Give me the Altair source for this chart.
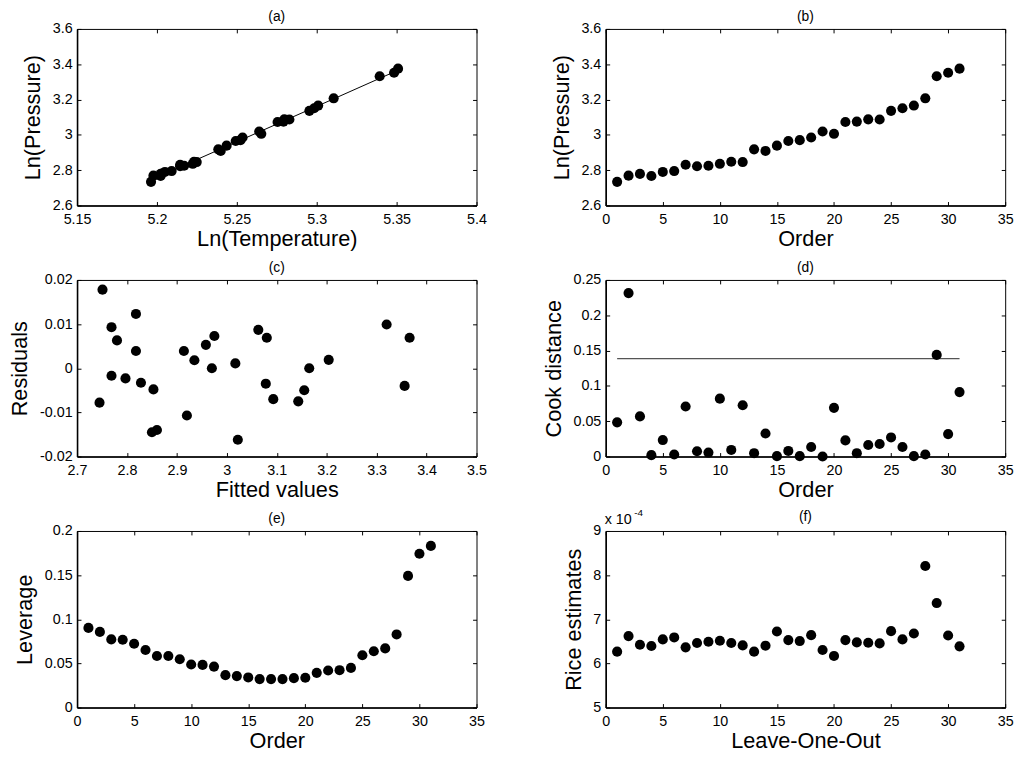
import altair as alt
import pandas as pd

# ---------------- data ----------------
order = list(range(1, 32))
ln_temp = [5.1963, 5.1978, 5.2023, 5.2023, 5.2050, 5.2092, 5.2145, 5.2145, 5.2170, 5.2224,
           5.2232, 5.2249, 5.2384, 5.2399, 5.2436, 5.2493, 5.2523, 5.2536, 5.2640, 5.2653,
           5.2755, 5.2792, 5.2797, 5.2829, 5.2954, 5.2984, 5.3009, 5.3106, 5.3394, 5.3484, 5.3509]
ln_press = [2.734, 2.769, 2.779, 2.767, 2.790, 2.795, 2.831, 2.822, 2.825, 2.836,
            2.848, 2.846, 2.918, 2.909, 2.939, 2.965, 2.970, 2.985, 3.019, 3.006,
            3.073, 3.075, 3.088, 3.087, 3.136, 3.151, 3.166, 3.207, 3.332, 3.352, 3.375]
fitted = [2.745, 2.751, 2.769, 2.769, 2.780, 2.797, 2.818, 2.818, 2.828, 2.850,
          2.853, 2.860, 2.914, 2.920, 2.935, 2.958, 2.970, 2.975, 3.017, 3.022,
          3.063, 3.078, 3.080, 3.093, 3.143, 3.155, 3.165, 3.204, 3.320, 3.356, 3.366]
residuals = [-0.0078, 0.0178, 0.0093, -0.0017, 0.0063, -0.0023, 0.0123, 0.0039, -0.0033, -0.0145,
             -0.0048, -0.0140, 0.0039, -0.0107, 0.0018, 0.0053, 0.0000, 0.0073, 0.0011, -0.0162,
             0.0087, -0.0035, 0.0069, -0.0070, -0.0075, -0.0050, 0.0000, 0.0019, 0.0099, -0.0040, 0.0069]
cook = [0.0484, 0.2314, 0.0568, 0.0019, 0.0233, 0.0028, 0.0708, 0.0074, 0.0056, 0.0819,
        0.0093, 0.0726, 0.0047, 0.0326, 0.0005, 0.0079, 0.0005, 0.0135, 0.0000, 0.0689,
        0.0228, 0.0047, 0.0163, 0.0177, 0.0270, 0.0135, 0.0005, 0.0028, 0.1439, 0.0317, 0.0912]
cook_cutoff = 0.1387
cook_cutoff_span = [1, 31]
leverage = [0.0902, 0.0857, 0.0772, 0.0768, 0.0723, 0.0652, 0.0584, 0.0584, 0.0547, 0.0487,
            0.0483, 0.0464, 0.0367, 0.0356, 0.0341, 0.0322, 0.0322, 0.0322, 0.0333, 0.0337,
            0.0393, 0.0419, 0.0423, 0.0449, 0.0592, 0.0637, 0.0670, 0.0828, 0.1491, 0.1742, 0.1831]
# Rice estimates in units of 1e-4
rice = [6.266, 6.618, 6.423, 6.393, 6.543, 6.588, 6.363, 6.461, 6.491, 6.513,
        6.461, 6.408, 6.266, 6.401, 6.723, 6.528, 6.506, 6.640, 6.303, 6.169,
        6.528, 6.476, 6.468, 6.453, 6.730, 6.543, 6.678, 8.206, 7.367, 6.633, 6.386]

ticks_lnT = [5.15, 5.2, 5.25, 5.3, 5.35, 5.4]
ticks_lnP = [2.6, 2.8, 3.0, 3.2, 3.4, 3.6]
ticks_order = [0, 5, 10, 15, 20, 25, 30, 35]
ticks_fit = [2.7, 2.8, 2.9, 3.0, 3.1, 3.2, 3.3, 3.4, 3.5]
ticks_res = [-0.02, -0.01, 0.0, 0.01, 0.02]
ticks_cook = [0, 0.05, 0.1, 0.15, 0.2, 0.25]
ticks_lev = [0, 0.05, 0.1, 0.15, 0.2]
ticks_rice = [5, 6, 7, 8, 9]

df = pd.DataFrame({
    "order": order, "lnT": ln_temp, "lnP": ln_press, "fit": fitted,
    "res": residuals, "cook": cook, "lev": leverage, "rice": rice,
})
cut_df = pd.DataFrame({"order": cook_cutoff_span, "cook": [cook_cutoff] * 2})

W, H = 405, 179
FONT = "Liberation Sans"
TICK = 4
LABEL_FS = 14.5


def lab_expr(fmt):
    return f"datum.value < 0 ? '-' + format(-datum.value, '{fmt}') : format(datum.value, '{fmt}')"


def panel(xf, yf, xdom, xvals, xfmt, ydom, yvals, yfmt, xtitle, ytitle, title,
          extra=None, title_offset=-3):
    xs = alt.Scale(domain=xdom, nice=False, zero=False)
    ys = alt.Scale(domain=ydom, nice=False, zero=False)
    base = alt.Chart(df)
    main_x = alt.Axis(values=xvals, labelExpr=lab_expr(xfmt), orient="bottom", offset=-TICK,
                      tickSize=TICK, domain=False, labelPadding=7, labelFlush=False,
                      labelOverlap=False, title=xtitle, titlePadding=3)
    main_y = alt.Axis(values=yvals, labelExpr=lab_expr(yfmt), orient="left", offset=-TICK,
                      tickSize=TICK, domain=False, labelPadding=5, labelOverlap=False,
                      title=ytitle, titlePadding=8)
    pts = base.mark_circle(size=105, color="black", opacity=1).encode(
        x=alt.X(f"{xf}:Q", scale=xs, axis=main_x),
        y=alt.Y(f"{yf}:Q", scale=ys, axis=main_y),
    )
    top_x = alt.Axis(values=xvals, orient="top", offset=-TICK, tickSize=TICK, domain=False,
                     labels=False, title=None)
    right_y = alt.Axis(values=yvals, orient="right", offset=-TICK, tickSize=TICK, domain=False,
                       labels=False, title=None)
    ghost = base.mark_circle(opacity=0).encode(
        x=alt.X(f"{xf}:Q", scale=xs, axis=top_x),
        y=alt.Y(f"{yf}:Q", scale=ys, axis=right_y),
    )
    bx = alt.Axis(orient="bottom", domain=True, domainWidth=1.6, ticks=False, labels=False,
                  title=None, values=[])
    by = alt.Axis(orient="left", domain=True, domainWidth=1.6, ticks=False, labels=False,
                  title=None, values=[])
    frame = base.mark_circle(opacity=0).encode(
        x=alt.X(f"{xf}:Q", scale=xs, axis=bx),
        y=alt.Y(f"{yf}:Q", scale=ys, axis=by),
    )
    layers = []
    if extra is not None:
        layers.extend(extra(xs, ys))
    layers.extend([pts, ghost, frame])
    return alt.layer(*layers).resolve_axis(x="independent", y="independent").properties(
        width=W, height=H,
        title=alt.TitleParams(title, fontSize=14, fontWeight="normal", font=FONT,
                              offset=title_offset, color="black"),
    )


def fit_line(xs, ys):
    return [alt.Chart(df).mark_line(color="black", strokeWidth=1).encode(
        x=alt.X("lnT:Q", scale=xs, axis=None), y=alt.Y("fit:Q", scale=ys, axis=None))]


def cut_line(xs, ys):
    return [alt.Chart(cut_df).mark_line(color="#555555", strokeWidth=1.2).encode(
        x=alt.X("order:Q", scale=xs, axis=None), y=alt.Y("cook:Q", scale=ys, axis=None))]


def exponent(xs, ys):
    t = pd.DataFrame({"t": ["x 10"], "e": ["-4"]})
    return [
        alt.Chart(t).mark_text(align="left", baseline="alphabetic", fontSize=LABEL_FS, font=FONT,
                               color="black").encode(text="t:N", x=alt.value(-1), y=alt.value(-7)),
        alt.Chart(t).mark_text(align="left", baseline="alphabetic", fontSize=10, font=FONT,
                               color="black").encode(text="e:N", x=alt.value(29), y=alt.value(-15)),
    ]


pa = panel("lnT", "lnP", [5.15, 5.4], ticks_lnT, ".2~f", [2.6, 3.6], ticks_lnP, ".1~f",
           "Ln(Temperature)", "Ln(Pressure)", "(a)", extra=fit_line)
pb = panel("order", "lnP", [0, 35], ticks_order, "d", [2.6, 3.6], ticks_lnP, ".1~f",
           "Order", "Ln(Pressure)", "(b)")
pc = panel("fit", "res", [2.7, 3.5], ticks_fit, ".1~f", [-0.02, 0.02], ticks_res, ".2~f",
           "Fitted values", "Residuals", "(c)")
pd_ = panel("order", "cook", [0, 35], ticks_order, "d", [0, 0.25], ticks_cook, ".2~f",
            "Order", "Cook distance", "(d)", extra=cut_line)
pe = panel("order", "lev", [0, 35], ticks_order, "d", [0, 0.2], ticks_lev, ".2~f",
           "Order", "Leverage", "(e)")
pf = panel("order", "rice", [0, 35], ticks_order, "d", [5, 9], ticks_rice, "d",
           "Leave-One-Out", "Rice estimates", "(f)", extra=exponent, title_offset=-16)

chart = alt.ConcatChart(
    concat=[pa, pb, pc, pd_, pe, pf], columns=2,
    spacing={"row": 75.5, "column": 131}, bounds="flush",
).properties(
    padding={"left": 0, "top": -4, "right": 5, "bottom": 5},
    background="white",
).configure_view(stroke="black", strokeWidth=1).configure_axis(
    labelFont=FONT, titleFont=FONT, labelFontSize=LABEL_FS, titleFontSize=22,
    titleFontWeight="normal", labelColor="black", titleColor="black",
    tickColor="black", domainColor="black", grid=False, tickWidth=1,
)

chart.save("out.html", embed_options={"renderer": "svg", "actions": False})
